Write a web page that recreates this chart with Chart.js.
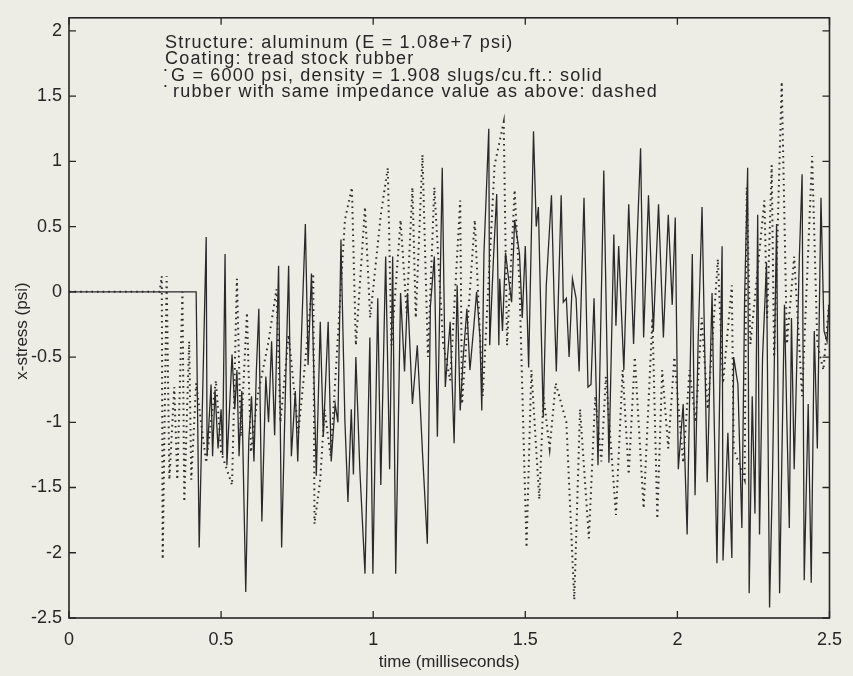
<!DOCTYPE html>
<html>
<head>
<meta charset="utf-8">
<script src="https://cdn.jsdelivr.net/npm/chart.js@4/dist/chart.umd.min.js"></script>
<style>
  html, body { margin: 0; padding: 0; background: #ededE5; }
  canvas { display: block; }
</style>
</head>
<body>
<canvas id="c" width="853" height="676"></canvas>
<script>
// ---- data ----
const xTickValues = [0, 0.5, 1, 1.5, 2, 2.5];
const yTickValues = [-2.5, -2, -1.5, -1, -0.5, 0, 0.5, 1, 1.5, 2];

const annotationLines = [
  "Structure: aluminum (E = 1.08e+7 psi)",
  "Coating: tread stock rubber",
  "G = 6000 psi, density = 1.908 slugs/cu.ft.: solid",
  "rubber with same impedance value as above: dashed"
];
const annotationBullets = [false, false, true, true];
const xTitle = "time (milliseconds)";
const yTitle = "x-stress (psi)";

// solid: G = 6000 psi rubber (time in ms, stress in psi)
const solidT = [
  0, 0.418, 0.428, 0.451, 0.454, 0.467, 0.472, 0.480, 0.490, 0.500,
  0.505, 0.513, 0.519, 0.536, 0.545, 0.552, 0.559, 0.568, 0.581, 0.591,
  0.600, 0.608, 0.616, 0.624, 0.634, 0.647, 0.656, 0.666, 0.676, 0.689,
  0.699, 0.710, 0.722, 0.731, 0.744, 0.752, 0.764, 0.777, 0.786, 0.797,
  0.813, 0.826, 0.836, 0.852, 0.862, 0.875, 0.884, 0.894, 0.907, 0.917,
  0.928, 0.935, 0.943, 0.956, 0.973, 0.989, 0.999, 1.015, 1.025, 1.041,
  1.054, 1.064, 1.074, 1.090, 1.103, 1.113, 1.129, 1.145, 1.162, 1.178,
  1.188, 1.201, 1.211, 1.227, 1.237, 1.253, 1.266, 1.276, 1.286, 1.296,
  1.308, 1.318, 1.331, 1.340, 1.351, 1.357, 1.364, 1.380, 1.383, 1.396,
  1.406, 1.413, 1.416, 1.425, 1.435, 1.445, 1.455, 1.465, 1.481, 1.490,
  1.500, 1.511, 1.527, 1.536, 1.543, 1.559, 1.569, 1.586, 1.595, 1.602,
  1.618, 1.625, 1.635, 1.644, 1.655, 1.667, 1.677, 1.693, 1.706, 1.716,
  1.726, 1.739, 1.758, 1.775, 1.791, 1.798, 1.807, 1.824, 1.840, 1.856,
  1.866, 1.879, 1.889, 1.905, 1.921, 1.938, 1.954, 1.970, 1.983, 1.993,
  2.003, 2.019, 2.032, 2.049, 2.058, 2.068, 2.081, 2.098, 2.114, 2.120,
  2.130, 2.147, 2.150, 2.166, 2.179, 2.185, 2.199, 2.212, 2.221, 2.231,
  2.236, 2.246, 2.255, 2.264, 2.270, 2.280, 2.293, 2.303, 2.313, 2.326,
  2.336, 2.352, 2.360, 2.368, 2.375, 2.384, 2.401, 2.410, 2.417, 2.430,
  2.440, 2.450, 2.460, 2.472, 2.482, 2.492, 2.498
];
const solidV = [
  0, 0, -1.96, 0.42, -1.26, -0.71, -1.26, -0.75, -1.20, -0.90,
  -1.25, 0.29, -1.33, -0.48, -0.90, -0.60, -1.26, -0.76, -2.30, -1.14,
  -0.80, -1.30, -0.60, -0.13, -1.76, -0.65, -1.00, -0.38, -1.10, 0.20,
  -1.96, -0.90, 0.20, -1.26, -0.76, -1.30, -0.35, 0.52, -0.56, 0.14,
  -1.41, -0.23, -1.11, -0.23, -1.30, -0.86, -1.00, 0.40, -0.99, -1.61,
  -0.90, -1.40, -0.50, -1.36, -2.16, -0.35, -2.16, -0.05, -1.48, 0.27,
  -1.36, 0.27, -2.16, -0.01, -0.61, -0.01, -0.86, -0.41, -1.23, -1.93,
  -0.11, 0.27, -1.11, 0.95, -0.73, -0.23, -1.16, 0.05, -0.91, -0.50,
  -0.13, -0.60, -0.26, 0.00, -0.35, -0.91, 0.29, 1.25, -0.41, 0.29,
  0.75, -0.41, 0.10, -0.30, 0.30, 0.10, -0.08, 0.55, 0.29, -0.20,
  0.35, -0.58, 1.23, 0.50, 0.65, -0.96, 0.05, 0.74, -0.08, -0.61,
  0.74, -0.08, -0.05, -0.50, 0.10, -0.05, -0.61, 0.72, -0.73, -0.71,
  -0.05, -1.33, 0.93, -1.31, 0.44, -0.26, 0.35, -0.60, 0.67, -0.40,
  0.30, 1.10, -0.35, 0.74, -0.30, 0.67, -0.35, 0.59, -0.10, 0.57,
  -1.36, -0.86, -1.86, 0.29, -1.56, -0.40, 0.65, -1.46, -0.01, -0.86,
  -2.08, 0.35, -2.06, -1.08, -2.04, -0.50, -0.71, -1.81, -0.05, 0.95,
  -2.31, -0.80, -1.70, 0.59, -1.86, -0.50, 0.22, -2.42, -1.36, 0.52,
  -2.31, -0.10, -1.00, -1.81, -0.20, -1.36, 0.27, 0.90, -2.21, -0.86,
  -2.23, -0.30, -1.20, 0.72, -0.30, -0.38, -0.10
];

// dashed: rubber with same impedance value
const dashT = [
  0, 0.298, 0.305, 0.308, 0.321, 0.330, 0.346, 0.356, 0.373, 0.379,
  0.395, 0.402, 0.418, 0.451, 0.483, 0.500, 0.536, 0.552, 0.565, 0.585,
  0.598, 0.620, 0.656, 0.682, 0.695, 0.722, 0.754, 0.770, 0.803, 0.807,
  0.826, 0.840, 0.860, 0.880, 0.907, 0.930, 0.943, 0.973, 0.990, 1.025,
  1.048, 1.060, 1.090, 1.110, 1.129, 1.140, 1.162, 1.180, 1.201, 1.230,
  1.253, 1.286, 1.292, 1.334, 1.360, 1.399, 1.429, 1.440, 1.465, 1.481,
  1.504, 1.520, 1.546, 1.560, 1.580, 1.600, 1.635, 1.661, 1.680, 1.709,
  1.730, 1.750, 1.765, 1.798, 1.820, 1.840, 1.860, 1.889, 1.918, 1.934,
  1.950, 1.970, 1.990, 2.019, 2.040, 2.060, 2.080, 2.100, 2.133, 2.150,
  2.179, 2.185, 2.221, 2.228, 2.240, 2.286, 2.295, 2.310, 2.318, 2.343,
  2.360, 2.384, 2.410, 2.443, 2.460, 2.480, 2.498
];
const dashV = [
  0, 0, 0.12, -2.05, 0.12, -1.44, -0.73, -1.44, 0.00, -1.61,
  -0.38, -1.44, -0.70, -1.31, -0.68, -1.23, -1.48, 0.10, -1.11, -0.16,
  -1.23, -0.80, -0.38, 0.02, -1.00, -0.33, -1.08, -0.70, 0.14, -1.78,
  -1.44, -0.90, -1.26, -0.50, 0.55, 0.80, -0.41, 0.65, -0.20, 0.59,
  0.95, -0.41, 0.55, -0.16, 0.80, -0.20, 1.05, -0.50, 0.80, -0.40,
  -0.68, 0.70, -0.86, 0.55, -0.80, 0.97, 1.30, -0.41, 0.78, 0.05,
  -1.96, -0.60, -1.59, -0.80, -1.20, -0.70, -1.00, -2.36, -0.90, -1.89,
  -0.80, -1.30, -0.65, -1.71, -0.60, -1.40, -0.50, -1.66, -0.20, -1.74,
  -0.60, -1.20, -0.50, -1.31, -0.60, -1.00, -0.20, -0.90, 0.25, -0.70,
  0.05, -1.20, -1.44, 0.80, -0.40, 0.70, -0.20, 0.97, -0.50, 1.61,
  -0.40, 0.27, -0.80, 1.04, -0.40, -0.60, -0.10
];

// ---- styles ----
const BG = '#ededE5';
const INK = '#262626';
const FONT = '"Liberation Sans", Arial, Helvetica, sans-serif';

const toPoints = (ts, vs) => ts.map((t, i) => ({ x: t, y: vs[i] }));
const fmt = v => String(v);

const framePlugin = {
  id: 'frame',
  beforeDraw(chart) {
    const ctx = chart.ctx;
    ctx.save();
    ctx.fillStyle = BG;
    ctx.fillRect(0, 0, chart.width, chart.height);
    ctx.restore();
  },
  afterDraw(chart) {
    const { ctx, chartArea: a, scales: { x, y } } = chart;
    ctx.save();
    ctx.strokeStyle = INK;
    ctx.lineWidth = 1.6;
    ctx.strokeRect(a.left, a.top, a.right - a.left, a.bottom - a.top);
    ctx.lineWidth = 1.3;
    const TL = 7;
    ctx.beginPath();
    x.ticks.forEach(t => {
      const px = x.getPixelForValue(t.value);
      ctx.moveTo(px, a.bottom); ctx.lineTo(px, a.bottom - TL);
      ctx.moveTo(px, a.top); ctx.lineTo(px, a.top + TL);
    });
    y.ticks.forEach(t => {
      const py = y.getPixelForValue(t.value);
      ctx.moveTo(a.left, py); ctx.lineTo(a.left + TL, py);
      ctx.moveTo(a.right, py); ctx.lineTo(a.right - TL, py);
    });
    ctx.stroke();

    // annotation block inside the axes
    ctx.fillStyle = INK;
    ctx.textAlign = 'left';
    ctx.textBaseline = 'alphabetic';
    annotationLines.forEach((s, i) => {
      const base = 48 + i * 16.4;
      let x0 = 165;
      if (annotationBullets[i]) {
        ctx.font = '8px ' + FONT;
        try { ctx.letterSpacing = '0px'; } catch (e) {}
        ctx.fillText('•', 164, base - 9);
        x0 = annotationBullets[i] && i === 2 ? 171 : 173;
      }
      ctx.font = '18px ' + FONT;
      try { ctx.letterSpacing = '1.2px'; } catch (e) {}
      ctx.fillText(s, x0, base);
    });
    try { ctx.letterSpacing = '0px'; } catch (e) {}

    // axis titles
    ctx.font = '17px ' + FONT;
    ctx.textAlign = 'center';
    ctx.textBaseline = 'middle';
    ctx.fillText(xTitle, (a.left + a.right) / 2, 662);
    ctx.translate(22, 331);
    ctx.rotate(-Math.PI / 2);
    ctx.fillText(yTitle, 0, 0);
    ctx.restore();
  }
};

Chart.defaults.font.family = FONT;
Chart.defaults.font.size = 18;
Chart.defaults.color = INK;

new Chart(document.getElementById('c'), {
  type: 'line',
  data: {
    datasets: [
      {
        label: 'same impedance (dashed)',
        data: toPoints(dashT, dashV),
        borderColor: '#2e2e2e',
        borderWidth: 2,
        borderDash: [1.6, 4],
        pointRadius: 0,
        tension: 0,
        fill: false
      },
      {
        label: 'G = 6000 psi (solid)',
        data: toPoints(solidT, solidV),
        borderColor: '#2a2a2a',
        borderWidth: 1.3,
        pointRadius: 0,
        tension: 0,
        fill: false
      }
    ]
  },
  options: {
    responsive: false,
    devicePixelRatio: 1,
    animation: false,
    layout: { padding: { left: 0, right: 18, top: 7, bottom: 0 } },
    plugins: { legend: { display: false }, tooltip: { enabled: false }, title: { display: false } },
    scales: {
      x: {
        type: 'linear',
        min: 0, max: 2.5,
        afterBuildTicks: s => { s.ticks = xTickValues.map(v => ({ value: v })); },
        afterFit: s => { s.height = 58; },
        grid: { display: false, drawTicks: false },
        border: { display: false },
        ticks: { padding: 11, maxRotation: 0, autoSkip: false, color: INK, callback: fmt }
      },
      y: {
        type: 'linear',
        min: -2.5, max: 2.1,
        afterBuildTicks: s => { s.ticks = yTickValues.map(v => ({ value: v })); },
        afterFit: s => { s.width = 69; },
        grid: { display: false, drawTicks: false },
        border: { display: false },
        ticks: { padding: 7, autoSkip: false, color: INK, callback: fmt }
      }
    }
  },
  plugins: [framePlugin]
});
</script>
</body>
</html>
